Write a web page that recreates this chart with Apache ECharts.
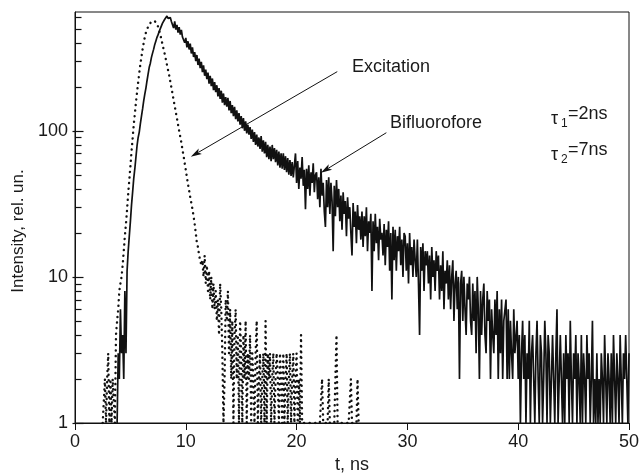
<!DOCTYPE html>
<html>
<head>
<meta charset="utf-8">
<script src="https://cdn.jsdelivr.net/npm/echarts@6/dist/echarts.min.js"></script>
<style>html,body{margin:0;padding:0;background:#fff}#c{width:641px;height:473px}</style>
</head>
<body>
<div id="c"></div>
<script>
// ---- data ----
const STEP = 0.1;                 // ns per channel
const BIF_T0 = 3.8;               // first channel of the Bifluorofore trace
const bifluorofore = [
1,3,2,6,3,4,2,8,3,11,
15,19,24,31,38,47,55,66,79,90,
98,112,126,141,160,178,196,220,245,272,
290,318,340,362,390,412,436,455,478,500,
522,545,560,580,596,610,588,572,595,560,
548,505,560,492,530,470,512,455,490,438,
450,400,432,372,410,360,395,338,372,320,
345,300,330,282,312,268,296,252,280,238,
262,226,250,210,238,202,228,190,215,184,
205,172,196,165,188,156,180,150,170,146,
168,138,160,132,150,126,146,120,138,116,
132,110,126,104,122,100,116,96,110,94,
106,88,102,84,98,80,94,78,90,75,
92,72,86,70,84,66,80,64,78,62,
80,64,76,61,74,58,72,56,70,55,
70,54,67,52,65,50,63,49,61,48,
58,70,44,62,40,56,47,66,42,54,
29,55,40,58,36,52,44,60,38,50,
52,34,48,30,55,36,44,28,22,46,
30,48,27,44,33,15,42,26,46,30,
40,24,36,21,38,27,33,19,35,25,
30,20,14,32,22,28,17,31,21,26,
18,28,16,26,19,30,15,24,20,27,
8,24,15,27,17,22,13,25,18,20,
14,23,12,21,16,24,11,20,7,22,
13,21,11,19,15,22,12,18,10,20,
19,11,17,9,20,12,16,10,18,13,
10,18,9,4,16,11,17,8,15,12,
15,9,14,7,16,10,13,8,15,11,
14,7,12,8,15,6,11,9,13,7,
12,6,10,13,5,9,11,6,10,2,
9,11,5,10,6,4,9,7,10,5,
4,9,5,8,3,10,6,2,8,4,
7,9,4,3,8,5,7,2,6,4,
3,7,4,8,2,6,3,7,2,5,
5,7,2,6,2,5,3,2,6,3,
3,5,2,4,1,3,5,2,4,1,
3,2,5,1,3,4,2,1,3,5,
2,1,4,3,1,2,5,3,1,4,
3,1,2,4,2,1,3,6,1,2,
4,2,1,3,1,4,2,3,1,5,
2,1,3,2,4,1,3,2,1,4,
1,3,2,1,4,2,3,1,2,5,
1,2,1,3,1,2,1,3,2,1,
4,2,1,3,2,1,3,1,4,2,
1,3,2,1,4,2,1,3,2,4,
2,1,3
];
const EXC_T0 = 2.5;               // first channel of the Excitation trace
const excitation = [
1,1,2,1,2,3,1,2,1,2,
2,1,4,5,6,8,9,10,12,15,
19,23,29,37,46,57,72,88,110,130,
156,183,214,248,285,322,362,400,438,470,
495,515,535,550,558,565,566,562,555,540,
515,485,455,420,390,360,335,308,283,260,
240,218,198,180,162,148,134,122,110,100,
91,83,74,67,60,54,48,43,39,35,
32,29,26,23,20,17,16,14,13,12,
13,10,14,9,12,8,11,7,10,6,
9,6,8,5,7,4,9,6,3,1,
2,7,5,8,3,6,2,5,1,4,
6,2,4,1,5,3,1,4,2,5,
1,3,2,4,1,3,2,1,3,5,
1,2,3,1,2,3,1,5,1,3,
2,3,1,2,3,1,2,3,2,1,
3,2,1,3,1,2,3,1,2,3,
1,2,3,1,2,3,1,2,1,4,
1,1,1,1,1,1,1,1,1,1,
1,1,1,1,1,1,1,1,2,1,
1,1,1,1,2,1,1,1,1,1,
1,4,1,1,1,1,1,1,1,1,
1,1,1,1,2,1,1,1,1,1,
2,1,1,1
];
const xTicks = [0, 10, 20, 30, 40, 50];
const yMajorTicks = [1, 10, 100];
const yMinorTicks = [2,3,4,5,6,7,8,9,20,30,40,50,60,70,80,90,200,300,400,500,600];
// annotation arrows: [tStart, IStart, tEnd, IEnd]
const arrows = [[23.67, 254, 10.45, 66.4], [28.1, 97, 22.2, 51.6]];

// ---- build ----
const FONT = 'Liberation Sans, Arial, Helvetica, sans-serif';
const TXT = '#1a1a1a';
const toPairs = (t0, arr) => arr.map((v, i) => [+(t0 + i * STEP).toFixed(2), v]);

function tickSeries(name, values, outLen, inLen) {
  return {
    name: name, type: 'custom', data: values.map(v => [0, v]), clip: false, z: 5,
    encode: {x: 0, y: 1},
    renderItem: (params, api) => {
      const p = api.coord([api.value(0), api.value(1)]);
      const x = Math.round(p[0]) + 0.5, y = Math.round(p[1]) + 0.5;
      return {type: 'line', shape: {x1: x - outLen, y1: y, x2: x + inLen, y2: y},
        style: {stroke: '#111', lineWidth: 1.2}};
    }
  };
}

const chart = echarts.init(document.getElementById('c'), null, {renderer: 'canvas'});
chart.setOption({
  animation: false,
  backgroundColor: '#fff',
  grid: {left: 75, right: 12, top: 12, bottom: 50, show: true, borderColor: '#111', borderWidth: 1,
         backgroundColor: 'transparent', outerBoundsMode: 'none'},
  xAxis: {
    type: 'value', min: 0, max: 50, interval: 10,
    name: 't, ns', nameLocation: 'middle', nameGap: 33,
    nameTextStyle: {fontFamily: FONT, fontSize: 18, color: TXT},
    axisLine: {lineStyle: {color: '#111', width: 1}},
    axisTick: {show: true, length: 7, inside: false, lineStyle: {color: '#111'}},
    axisLabel: {fontFamily: FONT, fontSize: 18, color: TXT, margin: 10},
    splitLine: {show: false}
  },
  yAxis: {
    type: 'log', logBase: 10, min: 1, max: 650,
    axisLine: {show: true, lineStyle: {color: '#111', width: 1}},
    axisTick: {show: false},
    axisLabel: {fontFamily: FONT, fontSize: 18, color: TXT, margin: 7, showMaxLabel: false,
      formatter: v => yMajorTicks.indexOf(Math.round(v)) >= 0 ? String(Math.round(v)) : ''},
    splitLine: {show: false}
  },
  graphic: [
    {type: 'text', x: 18, y: 231, rotation: Math.PI / 2,
     style: {text: 'Intensity, rel. un.', font: '17px ' + FONT, fill: TXT, textAlign: 'center', textVerticalAlign: 'middle'}},
    {type: 'text', x: 352, y: 67, style: {text: 'Excitation', font: '18px ' + FONT, fill: TXT, textAlign: 'left', textVerticalAlign: 'middle'}},
    {type: 'text', x: 390, y: 123, style: {text: 'Bifluorofore', font: '18px ' + FONT, fill: TXT, textAlign: 'left', textVerticalAlign: 'middle'}},
    {type: 'text', x: 551, y: 128, style: {text: 'τ', font: '18px ' + FONT, fill: TXT, textAlign: 'left', textVerticalAlign: 'bottom'}},
    {type: 'text', x: 561, y: 130, style: {text: '1', font: '12px ' + FONT, fill: TXT, textAlign: 'left', textVerticalAlign: 'bottom'}},
    {type: 'text', x: 568, y: 123, style: {text: '=2ns', font: '18px ' + FONT, fill: TXT, textAlign: 'left', textVerticalAlign: 'bottom'}},
    {type: 'text', x: 551, y: 164, style: {text: 'τ', font: '18px ' + FONT, fill: TXT, textAlign: 'left', textVerticalAlign: 'bottom'}},
    {type: 'text', x: 561, y: 166, style: {text: '2', font: '12px ' + FONT, fill: TXT, textAlign: 'left', textVerticalAlign: 'bottom'}},
    {type: 'text', x: 568, y: 159, style: {text: '=7ns', font: '18px ' + FONT, fill: TXT, textAlign: 'left', textVerticalAlign: 'bottom'}}
  ],
  series: [
    {
      name: 'Excitation', type: 'line', data: toPairs(EXC_T0, excitation),
      showSymbol: false, clip: true, z: 3,
      lineStyle: {color: '#111', width: 2.4, type: [0.1, 5.5], cap: 'round', join: 'round'}
    },
    {
      name: 'Bifluorofore', type: 'line', data: toPairs(BIF_T0, bifluorofore),
      showSymbol: false, clip: true, z: 4,
      lineStyle: {color: '#111', width: 1.7}
    },
    tickSeries('yMajorTicks', yMajorTicks, 3, 8),
    tickSeries('yMinorTicks', yMinorTicks, 0, 6),
    {
      name: 'arrows', type: 'custom', data: arrows, clip: false, z: 6,
      encode: {x: [0, 2], y: [1, 3]},
      renderItem: (params, api) => {
        const a = api.coord([api.value(0), api.value(1)]);
        const b = api.coord([api.value(2), api.value(3)]);
        const dx = b[0] - a[0], dy = b[1] - a[1];
        const L = Math.sqrt(dx * dx + dy * dy), ux = dx / L, uy = dy / L;
        const hl = 11, hw = 3.2;
        const bx = b[0] - ux * hl, by = b[1] - uy * hl;
        return {type: 'group', children: [
          {type: 'line', shape: {x1: a[0], y1: a[1], x2: bx + ux * 2, y2: by + uy * 2}, style: {stroke: '#111', lineWidth: 1}},
          {type: 'polygon', shape: {points: [[b[0], b[1]], [bx - uy * hw, by + ux * hw], [bx + ux * 2.5, by + uy * 2.5], [bx + uy * hw, by - ux * hw]]},
           style: {fill: '#111'}}
        ]};
      }
    }
  ]
});
</script>
</body>
</html>
